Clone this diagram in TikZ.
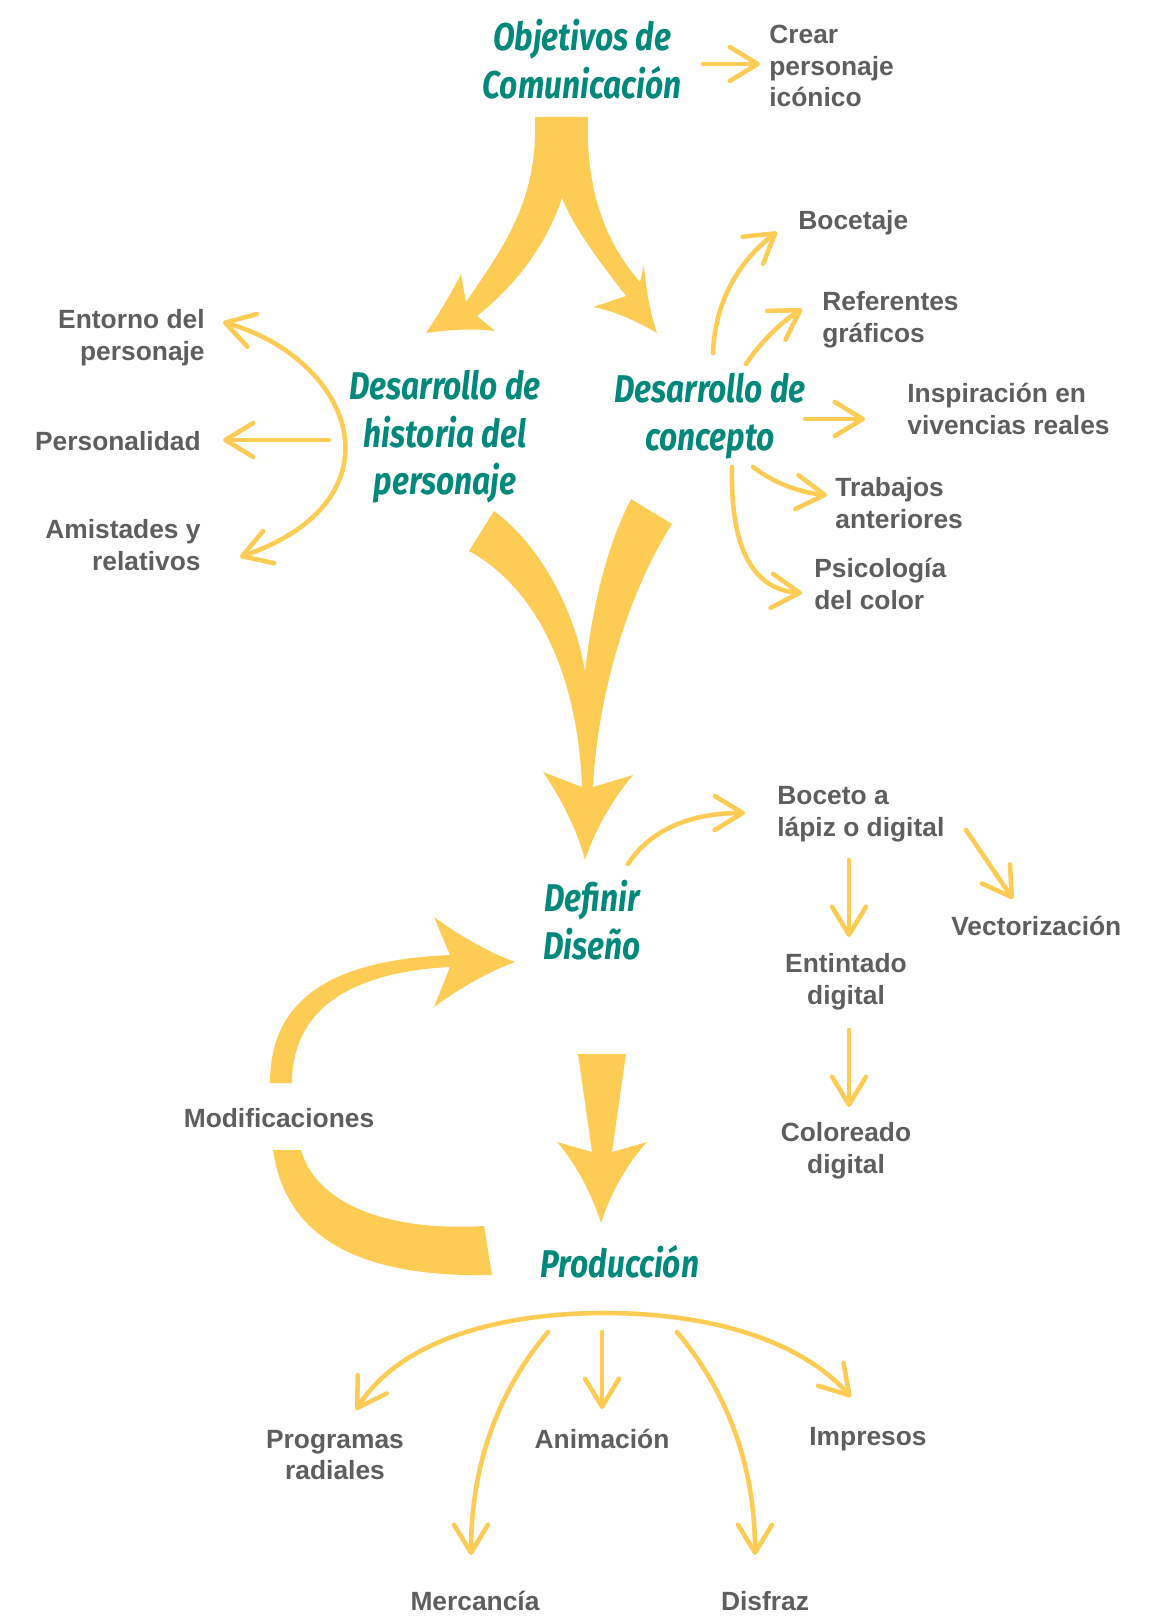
\documentclass[tikz,border=0pt]{standalone}
\usepackage{fontspec}
\setmainfont{Liberation Sans}
\newfontfamily\headfont{Fira Sans}[FakeStretch=0.82]
\usetikzlibrary{arrows.meta}
\definecolor{amber}{HTML}{FDCC55}
\definecolor{tealhd}{HTML}{00897B}
\definecolor{greytx}{HTML}{5E5E5E}

\begin{document}
\begin{tikzpicture}[x=0.2mm, y=-0.2mm,
	hd/.style={text=tealhd, font=\headfont\bfseries\itshape\fontsize{22}{27}\selectfont, align=center, inner sep=0pt},
	lbl/.style={text=greytx, font=\bfseries\fontsize{15}{18}\selectfont, inner sep=0pt, align=left},
	lnk/.style={draw=amber, line width=2.6pt, line cap=round, -{Straight Barb[length=5.6mm,width=6.8mm,round]}},
	fat/.style={fill=amber}]
	\useasboundingbox (0,0) rectangle (1160,1616);
	%big arrows
	\fill[fat] (535,117) -- (588,117)
	.. controls (585,200) and (612,250) .. (640,282)
	-- (644,265) .. controls (646,290) and (650,312) .. (657,333)
	.. controls (638,322) and (615,311) .. (593,307)
	-- (626,296) .. controls (600,262) and (575,230) .. (562,198)
	.. controls (548,240) and (520,282) .. (477,316)
	-- (495,331) .. controls (472,328) and (448,330) .. (426,333)
	.. controls (440,312) and (452,292) .. (461,274)
	-- (466,302) .. controls (505,245) and (538,200) .. (535,117) -- cycle;
	\fill[fat] (469,551) -- (494,511)
	.. controls (540,545) and (575,610) .. (585,672)
	.. controls (592,610) and (605,550) .. (631,499)
	-- (672,524) .. controls (630,590) and (598,690) .. (593,787)
	-- (633,775) .. controls (612,800) and (595,830) .. (585,860)
	.. controls (577,830) and (562,800) .. (543,772)
	-- (582,787) .. controls (578,680) and (540,590) .. (469,551) -- cycle;
	\fill[fat] (270,1083) .. controls (270,1000) and (330,960) .. (450,955)
	-- (434,917) .. controls (460,936) and (488,952) .. (515,962)
	.. controls (488,972) and (460,988) .. (434,1007)
	-- (450,967) .. controls (350,972) and (292,1010) .. (292,1083) -- cycle;
	\fill[fat] (273,1150) .. controls (285,1232) and (350,1278) .. (492,1275)
	-- (484,1226) .. controls (380,1232) and (315,1200) .. (301,1150) -- cycle;
	\fill[fat] (578,1054) -- (626,1054) -- (612,1152)
	-- (647,1142) .. controls (626,1165) and (610,1195) .. (601,1223)
	.. controls (592,1195) and (577,1165) .. (557,1142)
	-- (592,1152) -- cycle;
	
	%titles
	\node[hd] (obj) at (582,59) {Objetivos de\\Comunicación};
	\node[hd] (hist) at (445,437) {Desarrollo de\\historia del\\personaje};
	\node[hd] (conc) at (710,416) {Desarrollo de\\concepto};
	\node[hd] (defin) at (592,920) {Definir\\Diseño};
	\node[hd] (prod) at (620,1262) {Producción};
	
	%labels
	\node[lbl, anchor=west] (crear) at (769,66) {Crear\\personaje\\icónico};
	\node[lbl, anchor=east, align=right] (entorno) at (205,338) {Entorno del\\personaje};
	\node[lbl, anchor=east] (persona) at (201,441) {Personalidad};
	\node[lbl, anchor=east, align=right] (amist) at (201,545) {Amistades y\\relativos};
	\node[lbl, anchor=west] (bocetaje) at (798,223) {Bocetaje};
	\node[lbl, anchor=west] (refer) at (822,320) {Referentes\\gráficos};
	\node[lbl, anchor=west] (inspir) at (907,409) {Inspiración en\\vivencias reales};
	\node[lbl, anchor=west] (trabaj) at (835,503) {Trabajos\\anteriores};
	\node[lbl, anchor=west] (psico) at (814,584) {Psicología\\del color};
	\node[lbl, anchor=west] (boceto) at (777,814) {Boceto a\\lápiz o digital};
	\node[lbl, anchor=west] (vector) at (951,926) {Vectorización};
	\node[lbl, align=center] (entint) at (846,982) {Entintado\\digital};
	\node[lbl, align=center] (color) at (846,1151) {Coloreado\\digital};
	\node[lbl] (modif) at (279,1118) {Modificaciones};
	\node[lbl, align=center] (progr) at (335,1455) {Programas\\radiales};
	\node[lbl] (anim) at (602,1439) {Animación};
	\node[lbl] (impr) at (868,1439) {Impresos};
	\node[lbl] (merc) at (475,1601) {Mercancía};
	\node[lbl] (disf) at (765,1601) {Disfraz};
	
	%ends of the thin arrows
	\coordinate (obj-s) at (703,64);   \coordinate (crear-e) at (760,64);
	\coordinate (entorno-e) at (223,322); \coordinate (amist-e) at (240,557);
	\coordinate (persona-s) at (329,440); \coordinate (persona-e) at (223,440);
	\coordinate (bocetaje-s) at (713,353); \coordinate (bocetaje-e) at (777,232);
	\coordinate (refer-s) at (746,364); \coordinate (refer-e) at (802,309);
	\coordinate (inspir-s) at (805,419); \coordinate (inspir-e) at (865,419);
	\coordinate (trabaj-s) at (753,467); \coordinate (trabaj-e) at (827,495);
	\coordinate (psico-s) at (732,467); \coordinate (psico-e) at (802,593);
	\coordinate (boceto-s) at (628,864); \coordinate (boceto-e) at (745,813);
	\coordinate (vector-s) at (966,830); \coordinate (vector-e) at (1013,899);
	\coordinate (entint-s) at (849,860); \coordinate (entint-e) at (849,937);
	\coordinate (color-s) at (849,1030); \coordinate (color-e) at (849,1107);
	\coordinate (prod-top) at (604,1313);
	\coordinate (progr-e) at (356,1410); \coordinate (impr-e) at (851,1397);
	\coordinate (merc-s) at (548,1332); \coordinate (merc-e) at (471,1555);
	\coordinate (anim-s) at (602,1332); \coordinate (anim-e) at (602,1409);
	\coordinate (disf-s) at (677,1332); \coordinate (disf-e) at (755,1555);
	
	%thin arrows
	\draw[lnk] (obj-s) -- (crear-e);
	\draw[lnk, {Straight Barb[length=5.6mm,width=6.8mm,round]}-{Straight Barb[length=5.6mm,width=6.8mm,round]}]
	(entorno-e) .. controls (355,360) and (405,500) .. (amist-e);
	\draw[lnk] (persona-s) -- (persona-e);
	\draw[lnk] (bocetaje-s) .. controls (715,300) and (740,260) .. (bocetaje-e);
	\draw[lnk] (refer-s) .. controls (760,343) and (780,323) .. (refer-e);
	\draw[lnk] (inspir-s) -- (inspir-e);
	\draw[lnk] (trabaj-s) .. controls (770,480) and (795,492) .. (trabaj-e);
	\draw[lnk] (psico-s) .. controls (730,560) and (760,590) .. (psico-e);
	\draw[lnk] (boceto-s) .. controls (650,830) and (690,813) .. (boceto-e);
	\foreach \n in {vector, entint, color, anim}
	\draw[lnk] (\n-s) -- (\n-e);
	\draw[lnk] (prod-top) .. controls (500,1313) and (400,1340) .. (progr-e);
	\draw[lnk] (prod-top) .. controls (710,1313) and (800,1340) .. (impr-e);
	\draw[lnk] (merc-s) .. controls (495,1395) and (471,1470) .. (merc-e);
	\draw[lnk] (disf-s) .. controls (730,1395) and (755,1470) .. (disf-e);
\end{tikzpicture}
\end{document}
